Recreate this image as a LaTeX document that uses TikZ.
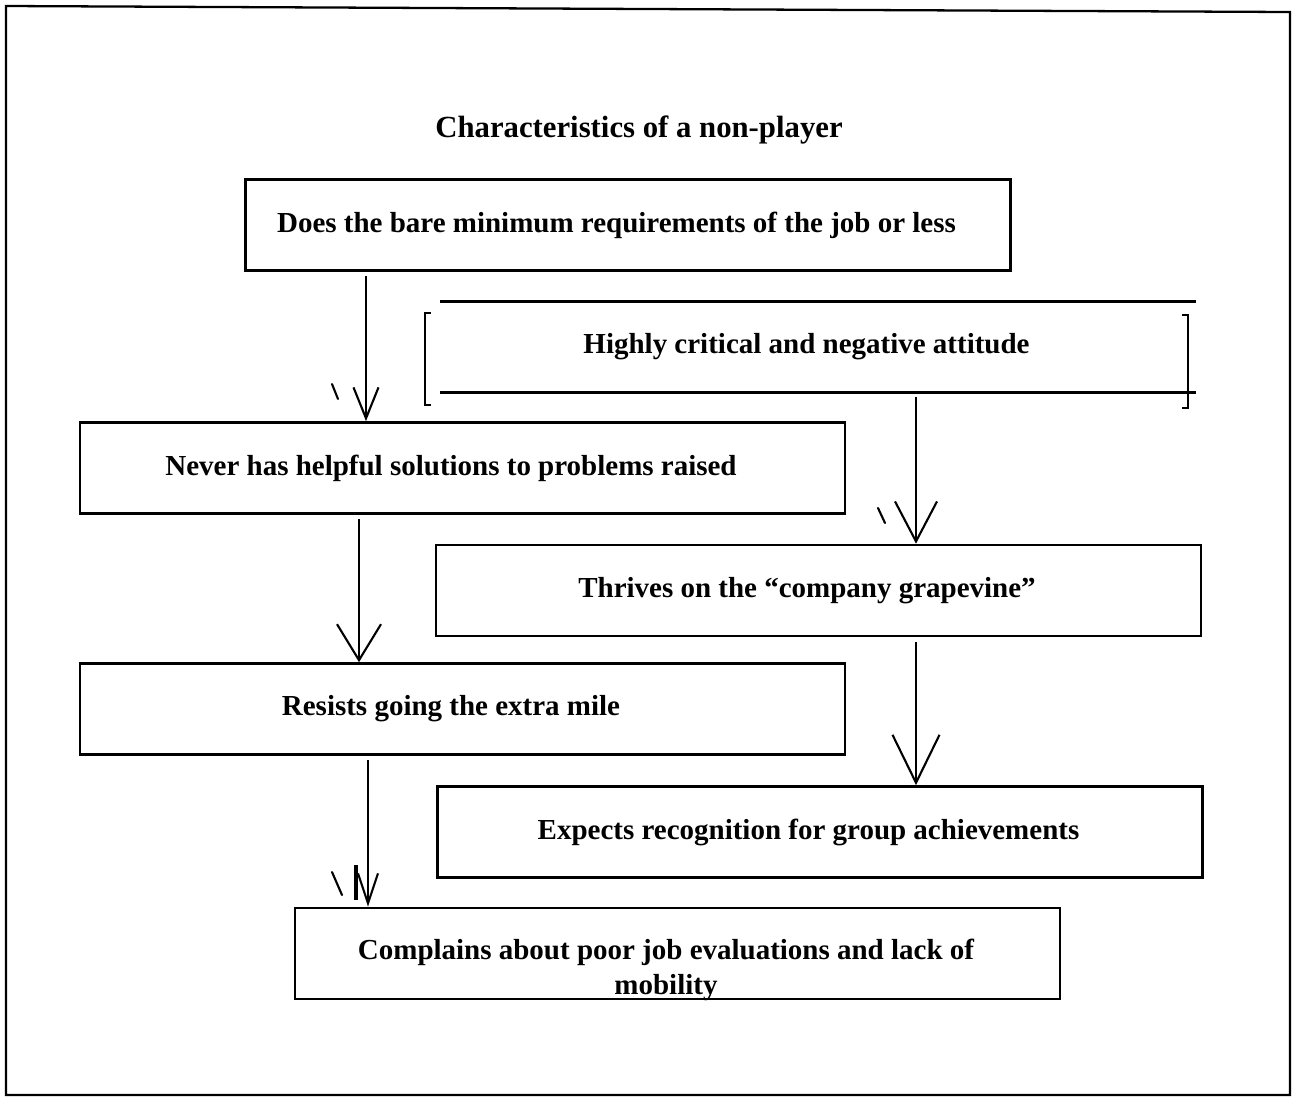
\documentclass[tikz,border=0pt]{standalone}
\usepackage{fontspec}
\setmainfont{Liberation Serif}
\usetikzlibrary{arrows.meta}
\begin{document}
\begin{tikzpicture}[x=0.02cm,y=-0.02cm,
  card/.style={draw, line width=1.5pt, inner sep=0pt,
    minimum width=15.3cm, minimum height=1.82cm,
    font=\bfseries\fontsize{16.5}{19.8}\selectfont, align=center,
    execute at end node={\hspace*{0.46cm}}},
  plain/.style={inner sep=0pt, minimum width=15.1cm, minimum height=1.8cm,
    font=\bfseries\fontsize{16.5}{19.8}\selectfont, align=center,
    execute at end node={\hspace*{0.46cm}}},
  link/.style={line width=1.2pt, shorten <=0.09cm},
  tick/.style={line width=1.2pt, line cap=round}]
\useasboundingbox (0,0) rectangle (1295,1100);

% outer frame
\draw[line width=1.3pt] (6,1095) -- (6,6) -- (1290,12) -- (1290,1095) -- cycle;

% title
\node[font=\bfseries\fontsize{17.5}{21}\selectfont] (title) at (639,130) {Characteristics of a non-player};

% boxes
\node[card] (does) at (628,225) {Does the bare minimum requirements of the job or less};
\node[plain] (crit) at (818,347) {Highly critical and negative attitude};
\node[card] (never) at (462.5,468) {Never has helpful solutions to problems raised};
\node[card] (grape) at (818.5,590.5) {Thrives on the “company grapevine”};
\node[card] (resists) at (462.5,709) {Resists going the extra mile};
\node[card] (expects) at (820,832) {Expects recognition for group achievements};
\node[card] (complains) at (677.5,953.5)
  {\raisebox{-0.48cm}[0pt][0pt]{\begin{tabular}{@{}c@{}}Complains about poor job evaluations and lack of\\mobility\end{tabular}}};

% the bracketed box: rules above and below, brackets at the sides
\draw[line width=1.5pt] (crit.north west) -- (crit.north east);
\draw[line width=1.5pt] (crit.south west) -- (crit.south east);
\draw[line width=1.3pt] (431,313) -- (425,313) -- (425,405) -- (431,405);
\draw[line width=1.3pt] (1182,315) -- (1188,315) -- (1188,408) -- (1182,408);

% columns for the connectors
\coordinate (c1) at (366,0);
\coordinate (c2) at (916,0);
\coordinate (c3) at (359,0);
\coordinate (c5) at (368,0);

% connectors
\draw[link, -{Straight Barb[length=0.62cm, width=0.5cm]}] (does.south -| c1) -- (never.north -| c1);
\draw[link, -{Straight Barb[length=0.8cm, width=0.84cm]}] (crit.south -| c2) -- (grape.north -| c2);
\draw[link, -{Straight Barb[length=0.72cm, width=0.88cm]}] (never.south -| c3) -- (resists.north -| c3);
\draw[link, -{Straight Barb[length=0.96cm, width=0.94cm]}] (grape.south -| c2) -- (expects.north -| c2);
\draw[link, -{Straight Barb[length=0.6cm, width=0.4cm]}] (resists.south -| c5) -- (complains.north -| c5);

% small stray strokes beside the arrowheads
\draw[tick] (332,384) -- (338,399);
\draw[tick] (878,508) -- (885,523);
\draw[tick] (332,872) -- (342,895);
\draw[line width=1.8pt] (356,865) -- (356,900);
\end{tikzpicture}
\end{document}
